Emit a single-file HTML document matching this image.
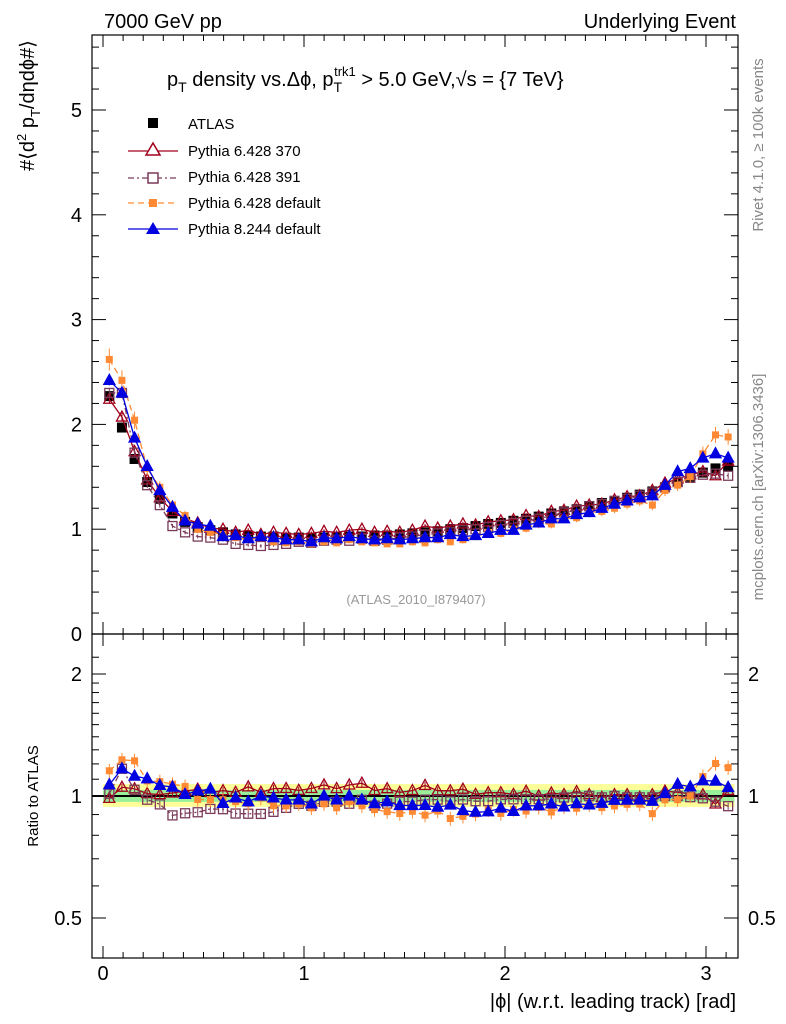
<!DOCTYPE html>
<html><head><meta charset="utf-8">
<style>
body{margin:0;background:#fff;}
svg{display:block;font-family:"Liberation Sans",sans-serif;}
</style></head>
<body>
<svg id="chart" width="786" height="1024" xmlns="http://www.w3.org/2000/svg">
<text x="104" y="28" font-size="20">7000 GeV pp</text>
<text x="736" y="28" font-size="20" text-anchor="end">Underlying Event</text>
<text transform="translate(763,145) rotate(-90)" font-size="15" fill="#888" text-anchor="middle">Rivet 4.1.0, ≥ 100k events</text>
<text transform="translate(763,487) rotate(-90)" font-size="15" fill="#888" text-anchor="middle">mcplots.cern.ch [arXiv:1306.3436]</text>
<g id="main"></g>
<g id="ratio"></g>
</svg>
<script>
const phiBins = 50;
const atlas = [2.27,1.97,1.67,1.45,1.29,1.15,1.07,1.02,0.99,0.97,0.95,0.94,0.93,0.93,0.92,0.92,0.92,0.92,0.93,0.93,0.93,0.94,0.94,0.95,0.96,0.97,0.98,1.00,1.01,1.03,1.05,1.06,1.08,1.10,1.12,1.15,1.17,1.19,1.22,1.25,1.27,1.30,1.33,1.36,1.40,1.45,1.50,1.54,1.58,1.60];
const p370 = [2.24,2.07,1.74,1.47,1.30,1.17,1.10,1.06,1.01,1.00,0.97,0.99,0.95,0.97,0.96,0.95,0.96,0.98,0.97,0.99,1.00,0.97,0.98,0.97,0.99,1.03,1.01,1.03,1.05,1.04,1.07,1.08,1.09,1.13,1.12,1.17,1.18,1.22,1.23,1.24,1.28,1.31,1.32,1.37,1.44,1.48,1.52,1.55,1.51,1.65];
const p391 = [2.30,2.30,1.73,1.42,1.23,1.03,0.97,0.93,0.92,0.90,0.86,0.85,0.84,0.85,0.86,0.88,0.87,0.89,0.90,0.89,0.91,0.89,0.90,0.92,0.93,0.95,0.96,0.97,0.99,1.00,1.02,1.04,1.06,1.08,1.10,1.13,1.16,1.18,1.22,1.24,1.27,1.29,1.32,1.35,1.40,1.45,1.49,1.52,1.53,1.51];
const p6d = [2.62,2.42,2.04,1.58,1.40,1.23,1.13,1.00,0.97,0.95,0.92,0.90,0.92,0.88,0.87,0.88,0.86,0.88,0.87,0.90,0.88,0.87,0.86,0.86,0.88,0.87,0.90,0.88,0.90,0.93,0.97,0.96,1.00,1.01,1.05,1.05,1.10,1.11,1.16,1.17,1.20,1.24,1.27,1.23,1.37,1.42,1.50,1.72,1.90,1.88];
const p8 = [2.42,2.30,1.87,1.60,1.37,1.21,1.08,1.05,1.03,0.93,0.94,0.91,0.93,0.92,0.90,0.90,0.88,0.92,0.91,0.93,0.91,0.90,0.91,0.90,0.91,0.92,0.92,0.95,0.93,0.94,0.96,0.99,0.99,1.04,1.06,1.10,1.10,1.14,1.16,1.20,1.24,1.27,1.30,1.32,1.42,1.55,1.58,1.68,1.72,1.68];
const xTicks = [0,1,2,3];
const yTicks = [0,1,2,3,4,5];
const rTicks = [0.5,1,2];

const NS="http://www.w3.org/2000/svg";
const X=v=>103+v*201;
const Y=v=>634-v*104.8;
const R=r=>796-Math.log2(r)*122;
const binW=Math.PI/phiBins;
const cx=i=>X((i+0.5)*binW);
function el(tag,attrs,parent){const e=document.createElementNS(NS,tag);for(const k in attrs)e.setAttribute(k,attrs[k]);parent.appendChild(e);return e;}
const main=document.getElementById('main'), ratio=document.getElementById('ratio');

const yb=el('rect',{x:X(0.0),y:R(1.07),width:X(Math.PI)-X(0),height:R(0.94)-R(1.07),fill:'#ffff99'},ratio);


const gb=el('rect',{x:X(0.0),y:R(1.035),width:X(Math.PI)-X(0),height:R(0.967)-R(1.035),fill:'#99ee99'},ratio);



for(const [g,y0,y1,nm] of [[main,35,634,'main-frame'],[ratio,634,958,'ratio-frame']]){
  const f=el('rect',{x:92,y:y0,width:646,height:y1-y0,fill:'none',stroke:'#000','stroke-width':1.2},g);
  
  
  for(let v=0;v<=3.15;v+=0.1){
    const major=Math.abs(v-Math.round(v))<1e-6;
    const L=major?12:6;
    el('line',{x1:X(v),x2:X(v),y1:y1,y2:y1-L,stroke:'#000'},g);
    el('line',{x1:X(v),x2:X(v),y1:y0,y2:y0+L,stroke:'#000'},g);
  }
}
for(let v=0;v<=5.7;v+=0.2){
  const major=Math.abs(v-Math.round(v))<1e-6;const L=major?14:7;
  el('line',{x1:92,x2:92+L,y1:Y(v),y2:Y(v),stroke:'#000'},main);
  el('line',{x1:738,x2:738-L,y1:Y(v),y2:Y(v),stroke:'#000'},main);
}
yTicks.forEach(v=>{const t=el('text',{x:82,y:Y(v)+7,'font-size':20,'text-anchor':'end'},main);t.textContent=v;

});
const rMinor=[0.5,0.6,0.7,0.8,0.9,1,1.1,1.2,1.3,1.4,1.5,1.6,1.7,1.8,1.9,2,2.2];
rMinor.forEach(r=>{const major=rTicks.includes(r);const L=major?14:7;
  el('line',{x1:92,x2:92+L,y1:R(r),y2:R(r),stroke:'#000'},ratio);
  el('line',{x1:738,x2:738-L,y1:R(r),y2:R(r),stroke:'#000'},ratio);});
rTicks.forEach(r=>{const t=el('text',{x:82,y:R(r)+7,'font-size':20,'text-anchor':'end'},ratio);t.textContent=r;


const t2=el('text',{x:748,y:R(r)+7,'font-size':20},ratio);t2.textContent=r;

});
xTicks.forEach(v=>{const t=el('text',{x:X(v),y:980,'font-size':20,'text-anchor':'middle'},ratio);t.textContent=v;

});
el('line',{x1:92,x2:738,y1:R(1),y2:R(1),stroke:'#000','stroke-width':2},ratio);

const series=[
 {name:'pythia-6428-370',d:p370,color:'#a0001c',dash:'',m:'otri'},
 {name:'pythia-6428-391',d:p391,color:'#7a3a5a',dash:'6,3,2,3',m:'osq'},
 {name:'pythia-6428-default',d:p6d,color:'#ff8a33',dash:'6,4',m:'fsq'},
 {name:'pythia-8244-default',d:p8,color:'#0000e0',dash:'',m:'ftri'},
];
function marker(g,m,x,y,c,s){
  if(m==='otri'||m==='ftri'){const h=s;return el('polygon',{points:`${x},${y-h*0.6} ${x-h*0.55},${y+h*0.4} ${x+h*0.55},${y+h*0.4}`,fill:m==='ftri'?c:'none',stroke:c,'stroke-width':1.3},g);}
  if(m==='osq')return el('rect',{x:x-s/2,y:y-s/2,width:s,height:s,fill:'none',stroke:c,'stroke-width':1.3},g);
  return el('rect',{x:x-s/2,y:y-s/2,width:s,height:s,fill:c},g);
}
atlas.forEach((v,i)=>{const m=marker(main,'fsq',cx(i),Y(v),'#000',10);

});
series.forEach(s=>{
  const pts=s.d.map((v,i)=>cx(i)+','+Y(v)).join(' ');
  const pl=el('polyline',{points:pts,fill:'none',stroke:s.color,'stroke-width':1.3,'stroke-dasharray':s.dash},main);
  
  
  const rpts=s.d.map((v,i)=>cx(i)+','+R(v/atlas[i])).join(' ');
  const rl=el('polyline',{points:rpts,fill:'none',stroke:s.color,'stroke-width':1.3,'stroke-dasharray':s.dash},ratio);
  
  
  const sz=s.m.includes('tri')?10:(s.m==='osq'?9:7);
  s.d.forEach((v,i)=>{
    const e=(s.m==='fsq'?0.04:0.02)*v;
    el('line',{x1:cx(i),x2:cx(i),y1:Y(v-e),y2:Y(v+e),stroke:s.color},main);
    const p=marker(main,s.m,cx(i),Y(v),s.color,sz);
    
    
    const r=v/atlas[i];
    el('line',{x1:cx(i),x2:cx(i),y1:R(r*(1-e/v)),y2:R(r*(1+e/v)),stroke:s.color},ratio);
    const q=marker(ratio,s.m,cx(i),R(r),s.color,sz);
    
    
  });
});
</script>
<svg style="position:absolute;left:0;top:0" width="786" height="1024" xmlns="http://www.w3.org/2000/svg" font-family="Liberation Sans, sans-serif">
<text x="167" y="86" font-size="20">p<tspan font-size="14" dy="6">T</tspan><tspan dy="-6"> density vs.Δϕ, p</tspan><tspan font-size="14" dy="6">T</tspan><tspan font-size="13" dx="-8" dy="-16">trk1</tspan><tspan dy="10"> &gt; 5.0 GeV,√s = {7 TeV}</tspan></text>
<text transform="translate(34,40) rotate(-90)" font-size="20" text-anchor="end">#⟨d<tspan font-size="13" dy="-8">2</tspan><tspan dy="8"> p</tspan><tspan font-size="13" dy="6">T</tspan><tspan dy="-6">/dηdϕ#⟩</tspan></text>
<text transform="translate(38,796) rotate(-90)" font-size="15" text-anchor="middle">Ratio to ATLAS</text>
<text x="736" y="1008" font-size="20" text-anchor="end">|ϕ| (w.r.t. leading track) [rad]</text>
<text x="416" y="604" font-size="13" fill="#999" text-anchor="middle">(ATLAS_2010_I879407)</text>
<g font-size="15">
<rect x="148" y="118" width="10" height="10" fill="#000"/>
<text x="188" y="129">ATLAS</text>
<line x1="128" x2="178" y1="151" y2="151" stroke="#a0001c" stroke-width="1.3"/>
<polygon points="153,143 146,155 160,155" fill="#fff" stroke="#a0001c" stroke-width="1.5"/>
<text x="188" y="156">Pythia 6.428 370</text>
<line x1="128" x2="178" y1="178" y2="178" stroke="#7a3a5a" stroke-width="1.3" stroke-dasharray="6,3,2,3"/>
<rect x="148" y="173" width="10" height="10" fill="#fff" stroke="#7a3a5a" stroke-width="1.5"/>
<text x="188" y="182">Pythia 6.428 391</text>
<line x1="128" x2="178" y1="203" y2="203" stroke="#ff8a33" stroke-width="1.3" stroke-dasharray="6,4"/>
<rect x="149" y="199" width="8" height="8" fill="#ff8a33"/>
<text x="188" y="208">Pythia 6.428 default</text>
<line x1="128" x2="178" y1="229" y2="229" stroke="#0000e0" stroke-width="1.3"/>
<polygon points="153,222 146,234 160,234" fill="#0000e0"/>
<text x="188" y="234">Pythia 8.244 default</text>
</g>
</svg>
</body></html>
